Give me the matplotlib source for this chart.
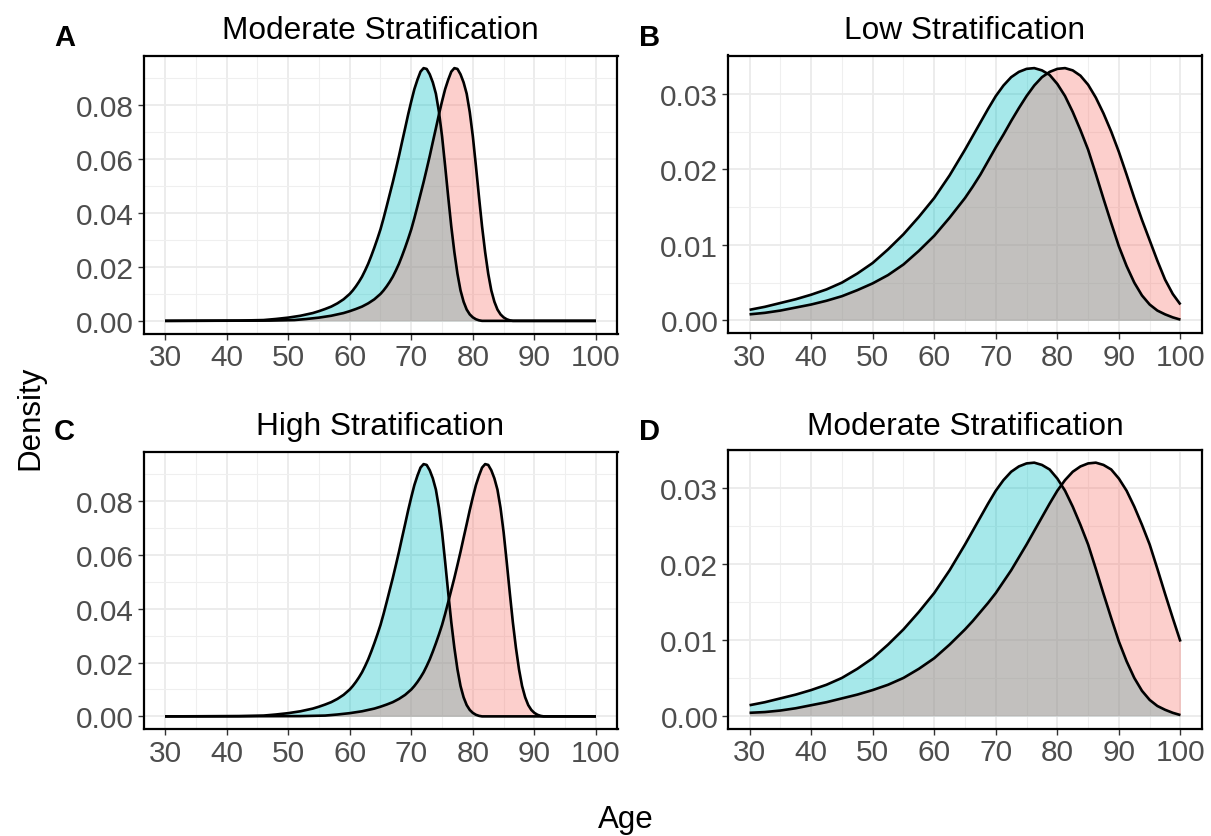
import matplotlib
matplotlib.use("Agg")
import matplotlib.pyplot as plt
from matplotlib.ticker import MultipleLocator, FormatStrFormatter

plt.rcParams['font.family'] = ['Liberation Sans', 'DejaVu Sans']

# ---------------- data ----------------
titles = ["Moderate Stratification", "Low Stratification",
          "High Stratification", "Moderate Stratification"]
letters = ["A", "B", "C", "D"]

# Panel A / C : reference group (teal)
teal_A_age = [30, 42, 44, 46, 48, 50, 52, 54, 55, 56, 57, 58, 59,
              60, 60.5, 61, 61.5, 62, 62.5, 63, 63.5, 64, 64.5,
              65, 65.5, 66, 66.5, 67, 67.5, 68, 68.5, 69, 69.5,
              70, 70.5, 71, 71.5, 72, 72.5, 73, 73.5, 74, 74.5,
              75, 75.5, 76, 76.5, 77, 77.5, 78, 78.5, 79, 79.5,
              80, 80.5, 81, 81.5, 100]
teal_A_dens = [0.0, 0.0001, 0.0002, 0.0003, 0.0007, 0.0012, 0.0019, 0.0029, 0.0036, 0.0044, 0.0053, 0.0065, 0.0080,
               0.0100, 0.0113, 0.0128, 0.0145, 0.0164, 0.0187, 0.0212, 0.0241, 0.0272, 0.0305,
               0.0340, 0.0381, 0.0425, 0.0470, 0.0515, 0.0563, 0.0612, 0.0664, 0.0715, 0.0767,
               0.0815, 0.0860, 0.0895, 0.0925, 0.0938, 0.0935, 0.0915, 0.0885, 0.0843, 0.0775,
               0.0685, 0.0575, 0.0460, 0.0350, 0.0255, 0.0175, 0.0113, 0.0071, 0.0042, 0.0024,
               0.0013, 0.0006, 0.0002, 0.0, 0.0]

# Panel A : comparison group (pink)
pink_A_age = [30, 47, 49, 51, 53, 55, 57, 59, 60, 61, 62, 63, 64,
              65, 65.5, 66, 66.5, 67, 67.5, 68, 68.5, 69, 69.5,
              70, 70.5, 71, 71.5, 72, 72.5, 73, 73.5, 74, 74.5,
              75, 75.5, 76, 76.5, 77, 77.5, 78, 78.5, 79, 79.5,
              80, 80.5, 81, 81.5, 82, 82.5, 83, 83.5, 84, 84.5,
              85, 85.5, 86, 86.5, 100]
pink_A_dens = [0.0, 0.0001, 0.0002, 0.0003, 0.0007, 0.0012, 0.0019, 0.0029, 0.0036, 0.0044, 0.0053, 0.0065, 0.0080,
               0.0100, 0.0113, 0.0128, 0.0145, 0.0164, 0.0187, 0.0212, 0.0241, 0.0272, 0.0305,
               0.0340, 0.0381, 0.0425, 0.0470, 0.0515, 0.0563, 0.0612, 0.0664, 0.0715, 0.0767,
               0.0815, 0.0860, 0.0895, 0.0925, 0.0938, 0.0935, 0.0915, 0.0885, 0.0843, 0.0775,
               0.0685, 0.0575, 0.0460, 0.0350, 0.0255, 0.0175, 0.0113, 0.0071, 0.0042, 0.0024,
               0.0013, 0.0006, 0.0002, 0.0, 0.0]

# Panel C : comparison group (pink)
pink_C_age = [30, 52, 54, 56, 58, 60, 62, 64, 65, 66, 67, 68, 69,
              70, 70.5, 71, 71.5, 72, 72.5, 73, 73.5, 74, 74.5,
              75, 75.5, 76, 76.5, 77, 77.5, 78, 78.5, 79, 79.5,
              80, 80.5, 81, 81.5, 82, 82.5, 83, 83.5, 84, 84.5,
              85, 85.5, 86, 86.5, 87, 87.5, 88, 88.5, 89, 89.5,
              90, 90.5, 91, 91.5, 100]
pink_C_dens = [0.0, 0.0001, 0.0002, 0.0003, 0.0007, 0.0012, 0.0019, 0.0029, 0.0036, 0.0044, 0.0053, 0.0065, 0.0080,
               0.0100, 0.0113, 0.0128, 0.0145, 0.0164, 0.0187, 0.0212, 0.0241, 0.0272, 0.0305,
               0.0340, 0.0381, 0.0425, 0.0470, 0.0515, 0.0563, 0.0612, 0.0664, 0.0715, 0.0767,
               0.0815, 0.0860, 0.0895, 0.0925, 0.0938, 0.0935, 0.0915, 0.0885, 0.0843, 0.0775,
               0.0685, 0.0575, 0.0460, 0.0350, 0.0255, 0.0175, 0.0113, 0.0071, 0.0042, 0.0024,
               0.0013, 0.0006, 0.0002, 0.0, 0.0]

# Panels B / D : ages on a common grid
wide_age = [30, 32.5, 35, 37.5, 40, 42.5, 45, 47.5, 50, 52.5, 55, 57.5, 60, 62.5, 65,
            66.25, 67.5, 68.75, 70, 71.25, 72.5, 73.75, 75, 76.25, 77.5, 78.75, 80,
            81.25, 82.5, 83.75, 85, 86.25, 87.5, 88.75, 90, 91.25, 92.5, 93.75, 95,
            96.25, 97.5, 98.75, 100]
teal_B_dens = [0.0014, 0.0018, 0.0023, 0.0028, 0.0034, 0.0041, 0.0050, 0.0062, 0.0076, 0.0094,
               0.0114, 0.0137, 0.0162, 0.0192, 0.0226,
               0.0244, 0.0262, 0.0280, 0.0297, 0.0311, 0.0322, 0.0329, 0.0333, 0.0334, 0.0331,
               0.0325, 0.0313, 0.0297, 0.0276, 0.0252, 0.0226, 0.0194, 0.0161, 0.0129, 0.0098,
               0.0072, 0.0050, 0.0033, 0.0021, 0.0013, 0.0008, 0.0004, 0.0001]
pink_B_dens = [0.0008, 0.0010, 0.0013, 0.0017, 0.0021, 0.0026, 0.0032, 0.0040, 0.0049, 0.0060,
               0.0074, 0.0092, 0.0112, 0.0136, 0.0162,
               0.0177, 0.0193, 0.0211, 0.0229, 0.0246, 0.0264, 0.0281, 0.0297, 0.0311, 0.0322,
               0.0329, 0.0333, 0.0334, 0.0331, 0.0324, 0.0312, 0.0295, 0.0274, 0.0250, 0.0223,
               0.0193, 0.0162, 0.0133, 0.0106, 0.0079, 0.0054, 0.0035, 0.0021]
teal_D_dens = [0.0014, 0.0018, 0.0023, 0.0028, 0.0034, 0.0041, 0.0050, 0.0062, 0.0076, 0.0094,
               0.0114, 0.0137, 0.0162, 0.0192, 0.0226,
               0.0244, 0.0262, 0.0280, 0.0297, 0.0311, 0.0322, 0.0329, 0.0333, 0.0334, 0.0331,
               0.0325, 0.0313, 0.0297, 0.0276, 0.0252, 0.0226, 0.0194, 0.0161, 0.0129, 0.0098,
               0.0072, 0.0050, 0.0033, 0.0021, 0.0013, 0.0008, 0.0004, 0.0001]
pink_D_dens = [0.0004, 0.0005, 0.0007, 0.0010, 0.0014, 0.0018, 0.0023, 0.0028, 0.0034, 0.0041,
               0.0050, 0.0062, 0.0076, 0.0094, 0.0114,
               0.0125, 0.0137, 0.0149, 0.0162, 0.0177, 0.0192, 0.0209, 0.0226, 0.0244, 0.0262,
               0.0280, 0.0297, 0.0311, 0.0322, 0.0329, 0.0333, 0.0334, 0.0331, 0.0325, 0.0313,
               0.0297, 0.0276, 0.0252, 0.0226, 0.0194, 0.0161, 0.0129, 0.0098]

x_ticks = [30, 40, 50, 60, 70, 80, 90, 100]

# ---------------- style ----------------
PINK = "#F8766D"
TEAL = "#00BFC4"
W, H = 1211, 837
fig = plt.figure(figsize=(W / 100, H / 100), dpi=100)


def rect(left, right, top, bottom):
    return [left / W, 1 - bottom / H, (right - left) / W, (bottom - top) / H]


def make_panel(r, series, ymajor, yminor, title, letter, title_y, letter_xy):
    ax = fig.add_axes(r)
    ax.set_axisbelow(True)
    for ages, dens, col in series:
        ax.fill_between(ages, 0, dens, color=col, alpha=0.35, linewidth=0)
        ax.plot(ages, dens, color="black", lw=1.9, solid_joinstyle="round",
                solid_capstyle="butt")
    ax.set_xlim(26.5, 103.5)
    top = max(max(d) for _, d, _ in series)
    ax.set_ylim(-0.05 * top, 1.05 * top)
    ax.set_xticks(x_ticks)
    ax.xaxis.set_minor_locator(MultipleLocator(5))
    ax.yaxis.set_major_locator(MultipleLocator(ymajor))
    ax.yaxis.set_minor_locator(MultipleLocator(yminor))
    ax.yaxis.set_major_formatter(FormatStrFormatter("%.2f"))
    ax.grid(which="major", color="#EBEBEB", lw=1.3)
    ax.grid(which="minor", color="#EFEFEF", lw=0.8)
    ax.tick_params(which="major", length=4, width=1.0, color="#333333",
                   labelsize=21.5, labelcolor="#4D4D4D", pad=3)
    ax.tick_params(which="minor", length=0)
    for s in ax.spines.values():
        s.set_color("black")
        s.set_linewidth(1.6)
    pos = ax.get_position()
    fig.text(pos.x0 + pos.width / 2, title_y, title, ha="center", va="center",
             fontsize=22.8, color="black")
    fig.text(letter_xy[0], letter_xy[1], letter, ha="left", va="center",
             fontsize=21, fontweight="bold", color="black")
    return ax


make_panel(rect(143.5, 617.5, 56.5, 334.5),
           [(teal_A_age, teal_A_dens, TEAL), (pink_A_age, pink_A_dens, PINK)],
           0.02, 0.01, titles[0], letters[0], 1 - 31 / H, (54 / W, 1 - 38 / H))
make_panel(rect(728, 1202, 56.5, 334),
           [(wide_age, teal_B_dens, TEAL), (wide_age, pink_B_dens, PINK)],
           0.01, 0.005, titles[1], letters[1], 1 - 31 / H, (639 / W, 1 - 38 / H))
make_panel(rect(143.5, 617.5, 452.5, 730),
           [(teal_A_age, teal_A_dens, TEAL), (pink_C_age, pink_C_dens, PINK)],
           0.02, 0.01, titles[2], letters[2], 1 - 427 / H, (54 / W, 1 - 432 / H))
make_panel(rect(728, 1202, 451, 729.5),
           [(wide_age, teal_D_dens, TEAL), (wide_age, pink_D_dens, PINK)],
           0.01, 0.005, titles[3], letters[3], 1 - 427 / H, (639 / W, 1 - 432 / H))

fig.text(626 / W, 1 - 820 / H, "Age", ha="center", va="center", fontsize=22.5)
fig.text(30 / W, 1 - 418 / H, "Density", ha="center", va="center",
         rotation=90, fontsize=22.5)

fig.savefig("out.png", dpi=100)
